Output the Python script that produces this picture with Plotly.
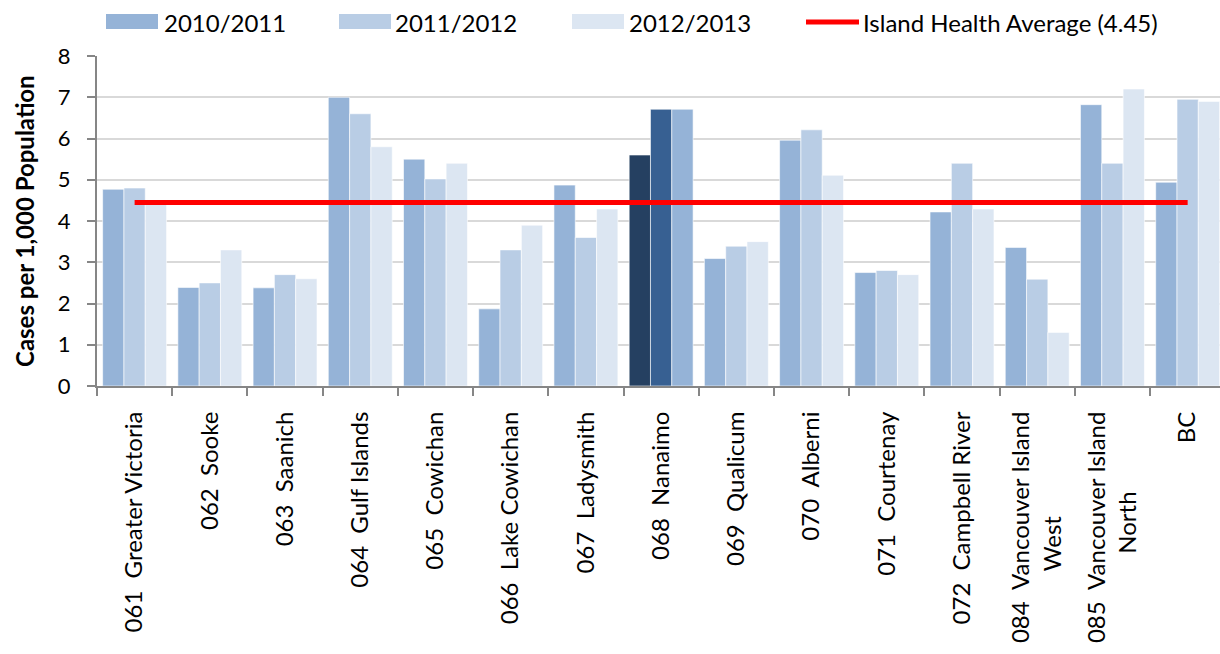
import plotly.graph_objects as go

NB = "\u00a0"

# Local health areas and yearly rates (cases per 1,000 population)
areas = [
    "061  Greater Victoria", "062  Sooke", "063  Saanich",
    "064  Gulf Islands", "065  Cowichan", "066  Lake Cowichan",
    "067  Ladysmith", "068  Nanaimo", "069  Qualicum",
    "070  Alberni", "071  Courtenay", "072  Campbell River",
    "084  Vancouver Island|West", "085  Vancouver Island|North", "BC",
]
rate_2010_2011 = [4.77, 2.39, 2.38, 7.00, 5.50, 1.87, 4.87, 5.60, 3.09, 5.96, 2.75, 4.22, 3.36, 6.82, 4.94]
rate_2011_2012 = [4.80, 2.50, 2.70, 6.60, 5.02, 3.30, 3.60, 6.71, 3.39, 6.21, 2.80, 5.40, 2.59, 5.40, 6.95]
rate_2012_2013 = [4.42, 3.30, 2.60, 5.80, 5.40, 3.90, 4.29, 6.71, 3.50, 5.11, 2.70, 4.29, 1.30, 7.20, 6.90]
island_health_avg = 4.45

series_names = ["2010/2011", "2011/2012", "2012/2013"]
base_colors = ["#95B3D7", "#B9CDE5", "#DCE6F2"]
highlight_area = "068  Nanaimo"
highlight_colors = ["#254061", "#376092", "#95B3D7"]

FONT = "Lato"

# trailing padding that centres a wrapped second line under the first
second_line_pad = {"West": 17, "North": 13}


def tick_text(label):
    parts = label.replace("  ", NB + NB).split("|")
    if len(parts) == 1:
        return parts[0]
    first, second = parts
    return first + "<br>" + second + NB * second_line_pad.get(second, 0)


fig = go.Figure()
for name, vals, col, hcol in zip(series_names, [rate_2010_2011, rate_2011_2012, rate_2012_2013],
                                 base_colors, highlight_colors):
    colors = [hcol if a == highlight_area else col for a in areas]
    fig.add_trace(go.Bar(
        x=areas, y=vals, name=name,
        marker=dict(color=colors, line=dict(color="white", width=0.6)),
        showlegend=False,
    ))

fig.add_trace(go.Scatter(
    x=areas, y=[island_health_avg] * len(areas), mode="lines",
    line=dict(color="#FF0000", width=5), name="Island Health Average (4.45)",
    showlegend=False,
))

# Plot area geometry in pixels (used for the hand-built legend)
W, H = 1220, 654
L, R, T, B = 97, 0, 56, 268
pw, ph = W - L - R, H - T - B


def px_x(px):
    return (px - L) / pw


def px_y(py):
    return (H - B - py) / ph


shapes = []
annotations = []
legend_items = [
    ("bar", base_colors[0], 106, 158, "2010/2011", 162),
    ("bar", base_colors[1], 339, 391, "2011/2012", 393),
    ("bar", base_colors[2], 572, 624, "2012/2013", 627),
    ("line", "#FF0000", 806, 859, "Island Health Average (4.45)", 861),
]
for kind, col, x0, x1, label, tx in legend_items:
    if kind == "bar":
        shapes.append(dict(type="rect", xref="paper", yref="paper",
                           x0=px_x(x0), x1=px_x(x1), y0=px_y(29), y1=px_y(14),
                           fillcolor=col, line=dict(width=0)))
    else:
        shapes.append(dict(type="line", xref="paper", yref="paper",
                           x0=px_x(x0), x1=px_x(x1), y0=px_y(22), y1=px_y(22),
                           line=dict(color=col, width=5)))
    annotations.append(dict(xref="paper", yref="paper", x=px_x(tx), y=px_y(22),
                            xanchor="left", yanchor="middle", showarrow=False,
                            text=label, font=dict(family=FONT, size=24, color="black")))

annotations.append(dict(xref="paper", yref="paper", x=px_x(24), y=px_y(221),
                        xanchor="center", yanchor="middle", showarrow=False, textangle=-90,
                        text="<b>Cases per 1,000 Population</b>",
                        font=dict(family=FONT, size=24, color="black")))

fig.update_layout(
    width=W, height=H,
    margin=dict(l=L, r=R, t=T, b=B),
    paper_bgcolor="white", plot_bgcolor="white",
    barmode="group", bargap=0.15, bargroupgap=0,
    font=dict(family=FONT, size=24, color="black"),
    shapes=shapes, annotations=annotations,
    xaxis=dict(
        type="category", range=[-0.5, 14.43], tickangle=-90,
        tickmode="array", tickvals=areas, ticktext=[tick_text(a) for a in areas],
        tickson="boundaries", ticks="outside", ticklen=8, tickwidth=1.5, tickcolor="#868686",
        ticklabelstandoff=14,
        showline=True, linecolor="#868686", linewidth=2, showgrid=False,
        tickfont=dict(family=FONT, size=24, color="black"),
    ),
    yaxis=dict(
        range=[0, 8], dtick=1, ticks="outside", ticklen=8, tickwidth=1.5, tickcolor="#868686",
        ticklabelstandoff=12,
        showline=True, linecolor="#868686", linewidth=2,
        showgrid=True, gridcolor="#D9D9D9", gridwidth=1.5, zeroline=False,
        tickfont=dict(family=FONT, size=22, color="black"),
    ),
)

fig.write_html("out.html")
